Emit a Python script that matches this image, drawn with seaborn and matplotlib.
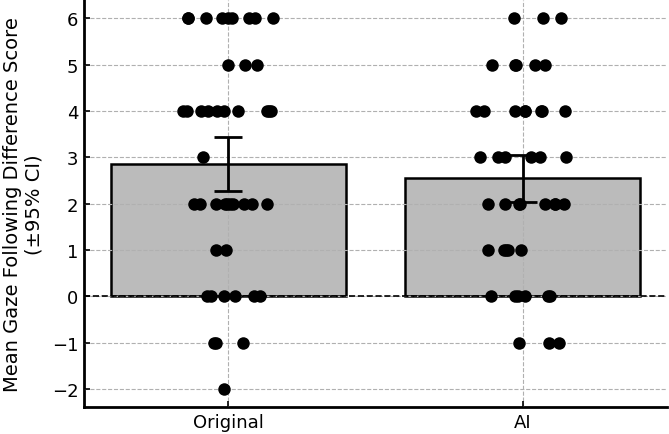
import matplotlib
matplotlib.use('Agg')
import numpy as np
import pandas as pd
import matplotlib.pyplot as plt
import seaborn as sns

# Datos
condiciones = ['Original', 'AI']
medias = [2.86, 2.55]
ci_inf = [2.28, 2.04]
ci_sup = [3.44, 3.06]

puntajes_original = [6, 6, 6, 6, 6, 6, 6, 6, 6,
                     5, 5, 5,
                     4, 4, 4, 4, 4, 4, 4, 4, 4, 4,
                     3,
                     2, 2, 2, 2, 2, 2, 2, 2, 2, 2,
                     1, 1,
                     0, 0, 0, 0, 0, 0,
                     -1, -1, -1,
                     -2]
puntajes_ai = [6, 6, 6,
               5, 5, 5, 5, 5,
               4, 4, 4, 4, 4, 4, 4, 4,
               3, 3, 3, 3, 3, 3,
               2, 2, 2, 2, 2, 2, 2, 2,
               1, 1, 1, 1, 1,
               0, 0, 0, 0, 0, 0,
               -1, -1, -1]

df_puntos = pd.DataFrame({
    'condicion': ['Original'] * len(puntajes_original) + ['AI'] * len(puntajes_ai),
    'puntaje': puntajes_original + puntajes_ai,
})
df_medias = pd.DataFrame({'condicion': condiciones, 'media': medias})

sns.set_style("ticks")
fig = plt.figure(figsize=(6.69, 4.35), dpi=100)
ax = fig.add_axes([0.1256, 0.061, 0.871, 0.937])

sns.barplot(data=df_medias, x='condicion', y='media', order=condiciones,
            color='#bbbbbb', saturation=1, edgecolor='black', linewidth=1.8,
            width=0.8, errorbar=None, ax=ax, zorder=1)

err = [np.array(medias) - np.array(ci_inf), np.array(ci_sup) - np.array(medias)]
ax.errorbar(range(len(condiciones)), medias, yerr=err, fmt='none',
            ecolor='black', elinewidth=2, capsize=10, capthick=2, zorder=4)

np.random.seed(7)
sns.stripplot(data=df_puntos, x='condicion', y='puntaje', order=condiciones,
              color='black', size=9, jitter=0.16, ax=ax, zorder=3)

ax.axhline(0, color='black', linestyle='--', linewidth=1.2, zorder=5)

ax.grid(True, linestyle='--', color='#b0b0b0', linewidth=0.8)
ax.set_axisbelow(False)
ax.set_ylim(-2.4, 6.4)
ax.set_xlim(-0.49, 1.49)
ax.set_yticks(range(-2, 7))
ax.set_xlabel('')
ax.set_ylabel('Mean Gaze Following Difference Score\n(±95% CI)', fontsize=14,
              color='black', labelpad=6)
ax.tick_params(axis='both', labelsize=13, width=1.2, length=4, direction='in',
               colors='black', pad=4)

sns.despine(ax=ax)
for lado in ['left', 'bottom']:
    ax.spines[lado].set_linewidth(2)
    ax.spines[lado].set_color('black')

plt.savefig('out.png', dpi=100)
plt.close()
